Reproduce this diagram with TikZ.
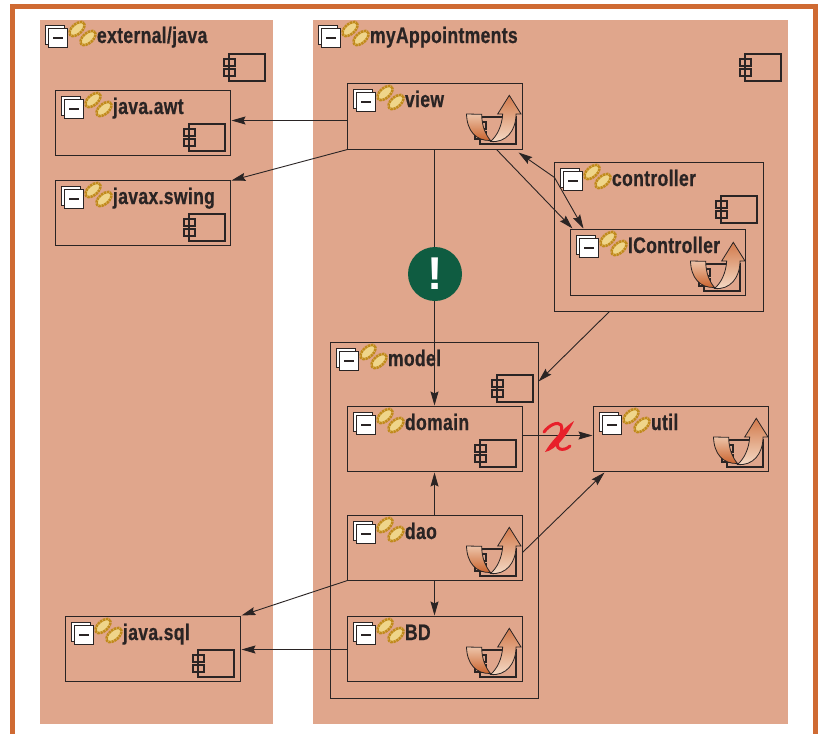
\documentclass[tikz,border=0pt]{standalone}
\usepackage{fontspec}
\usetikzlibrary{arrows.meta,calc}
\newfontfamily\lblfont{Liberation Sans}[UprightFont=* Bold,FakeStretch=0.78,FakeBold=0.6,LetterSpace=1.5]
\definecolor{panelc}{HTML}{E0A68C}
\definecolor{framec}{HTML}{CF6A32}
\definecolor{inkc}{HTML}{2A2424}
\definecolor{goldc}{HTML}{C08A1C}
\definecolor{goldl}{HTML}{EFD58A}
\definecolor{warnc}{HTML}{0F5C41}
\definecolor{swoopd}{HTML}{C9622C}
\definecolor{swoopl}{HTML}{F6DCC8}
\definecolor{xred}{HTML}{E8202A}
\tikzset{
  x=1pt,y=-1pt,
  panelbox/.style={fill=panelc,draw=none,inner sep=0pt,outer sep=0pt},
  pkgbox/.style={draw=inkc,line width=1.2pt,inner sep=0pt,outer sep=0pt},
  pkglabel/.style={anchor=base west,inner sep=0pt,outer sep=0pt,text=inkc,font=\lblfont\fontsize{22.5}{22.5}\selectfont},
  conn/.style={draw=inkc,line width=0.9pt,-{Stealth[length=14pt,width=8pt,inset=2pt]}},
  iconline/.style={draw=inkc,line width=1.1pt},
  warnmark/.style={circle,fill=warnc,minimum size=54pt,inner sep=0pt,outer sep=0pt,text=white,font=\fontspec{Liberation Sans}\bfseries\fontsize{46}{46}\selectfont},
  goldlink/.style={fill=goldl,draw=goldc,line width=2.6pt,dash pattern=on 2.4pt off 0.7pt}
}
\newcommand{\mkbox}[6]{\node[#6,minimum width={(#4-#2)*1pt},minimum height={(#5-#3)*1pt}] (#1) at ({(#2+#4)/2-0.5},{(#3+#5)/2-0.5}) {};}
\newcommand{\pkgicon}[2]{%
  \begin{scope}[shift={(#1)}]
    \filldraw[fill=white,draw=inkc,line width=0.8pt] (5,5) rectangle (24,24);
    \filldraw[fill=white,draw=inkc,line width=0.9pt] (8,8) rectangle (27,27);
    \draw[inkc,line width=1.6pt] (13,18) -- (23,18);
    \filldraw[goldlink,rotate around={42:(37,9)}] (37,9) ellipse (9 and 5);
    \filldraw[goldlink,rotate around={42:(48,18)}] (48,18) ellipse (9 and 5);
  \end{scope}
  \node[pkglabel] (#2-label) at ($(#1)+(57,23)$) {#2};}
\newcommand{\compicon}[1]{%
  \begin{scope}[shift={(#1)}]
    \draw[iconline] (0,0) rectangle (36,27);
    \draw[iconline] (-5,5) rectangle (6,12);
    \draw[iconline] (-5,15) rectangle (6,22);
  \end{scope}}
\newcommand{\swoopicon}[1]{%
  \begin{scope}[shift={(#1)}]
    \compicon{0,0}
    \shade[top color=swoopl!80!swoopd,bottom color=swoopd,draw=inkc,line width=0.8pt]
      (-13.5,-3) -- (1.7,-2.7) .. controls (1.7,8) and (5,17) .. (10.5,23.5) .. controls (-4,24) and (-13,14) .. cycle;
    \shade[top color=swoopd!85!white,bottom color=swoopl,draw=inkc,line width=0.8pt]
      (10.5,24.5) .. controls (26,26) and (36,14) .. (36,-3) -- (41,-3) -- (29.3,-21.7) -- (17.7,-3) -- (22.7,-3)
      .. controls (22,9) and (17,19) .. (10.5,24.5) -- cycle;
  \end{scope}}
\begin{document}
\begin{tikzpicture}
\useasboundingbox (0,0) rectangle (820,734);
\fill[white] (0,0) rectangle (820,734);
\fill[framec] (10,4) rectangle (818,9);
\fill[framec] (10,4) rectangle (15,734);
\fill[framec] (813,4) rectangle (818,734);
\mkbox{ext}{40}{20}{273}{724}{panelbox}
\mkbox{app}{313}{20}{788}{724}{panelbox}
\mkbox{awt}{56}{91}{231}{156}{pkgbox}
\mkbox{swing}{56}{181}{231}{246}{pkgbox}
\mkbox{sql}{66}{617}{241}{682}{pkgbox}
\mkbox{view}{348}{84}{523}{150}{pkgbox}
\mkbox{controller}{555}{163}{764}{312}{pkgbox}
\mkbox{icontroller}{571}{230}{746}{296}{pkgbox}
\mkbox{model}{331}{343}{539}{699}{pkgbox}
\mkbox{domain}{348}{407}{523}{472}{pkgbox}
\mkbox{dao}{348}{516}{523}{581}{pkgbox}
\mkbox{bd}{348}{617}{523}{682}{pkgbox}
\mkbox{util}{594}{407}{769}{472}{pkgbox}
% connectors
\draw[conn] ($(view.north west)+(0,37)$) -- ($(awt.north east)+(1,30)$);
\draw[conn] (view.south west) -- ($(swing.north east)+(1,0)$);
\draw[conn] ($(view.south west)+(87,0)$) -- ($(domain.north west)+(87,-1)$);
\draw[conn] ($(view.south east)+(-26,0)$) -- ($(icontroller.north west)+(2,-1)$);
\draw[conn] ($(controller.north west)+(0,15)$) -- ($(view.south east)+(-4,3)$);
\draw[conn] ($(controller.north west)+(0,15)$) -- ($(icontroller.north west)+(13,-1)$);
\draw[conn] ($(controller.south west)+(55,0)$) -- ($(model.north east)+(0,39)$);
\draw[conn] ($(domain.north east)+(0,29)$) -- ($(util.north west)+(-1,29)$);
\draw[conn] ($(dao.north west)+(87,0)$) -- ($(domain.south west)+(87,1)$);
\draw[conn] ($(dao.south west)+(87,0)$) -- ($(bd.north west)+(87,-1)$);
\draw[conn] ($(dao.north east)+(0,37)$) -- ($(util.south west)+(11,1)$);
\draw[conn] (dao.south west) -- ($(sql.north east)+(1,-1)$);
\draw[conn] ($(bd.north west)+(0,33)$) -- ($(sql.north east)+(1,33)$);
% icons
\pkgicon{40,20}{external/java}
\pkgicon{313,20}{myAppointments}
\pkgicon{56,91}{java.awt}
\pkgicon{56,181}{javax.swing}
\pkgicon{66,617}{java.sql}
\pkgicon{348,84}{view}
\pkgicon{555,163}{controller}
\pkgicon{571,230}{IController}
\pkgicon{331,343}{model}
\pkgicon{348,407}{domain}
\pkgicon{348,516}{dao}
\pkgicon{348,617}{BD}
\pkgicon{594,407}{util}
\compicon{229,54}
\compicon{745,54}
\compicon{189,124}
\compicon{189,214}
\compicon{198,650}
\compicon{721,196}
\compicon{497,375}
\compicon{480,440}
\swoopicon{480,117}
\swoopicon{704,264}
\swoopicon{480,549}
\swoopicon{480,650}
\swoopicon{727,440}
% warning
\node[warnmark] (warn) at (435,274) {!};
% red cross
\fill[xred] (574,421) .. controls (566,426) and (551,441) .. (545,452) .. controls (556,450) and (568,434) .. cycle;
\draw[xred,line width=3pt,line cap=round] (544,432) .. controls (549,425) and (558,421) .. (561,425) .. controls (565,432) and (552,446) .. (560,449) .. controls (563,450) and (567,449) .. (570,446);
\end{tikzpicture}
\end{document}
